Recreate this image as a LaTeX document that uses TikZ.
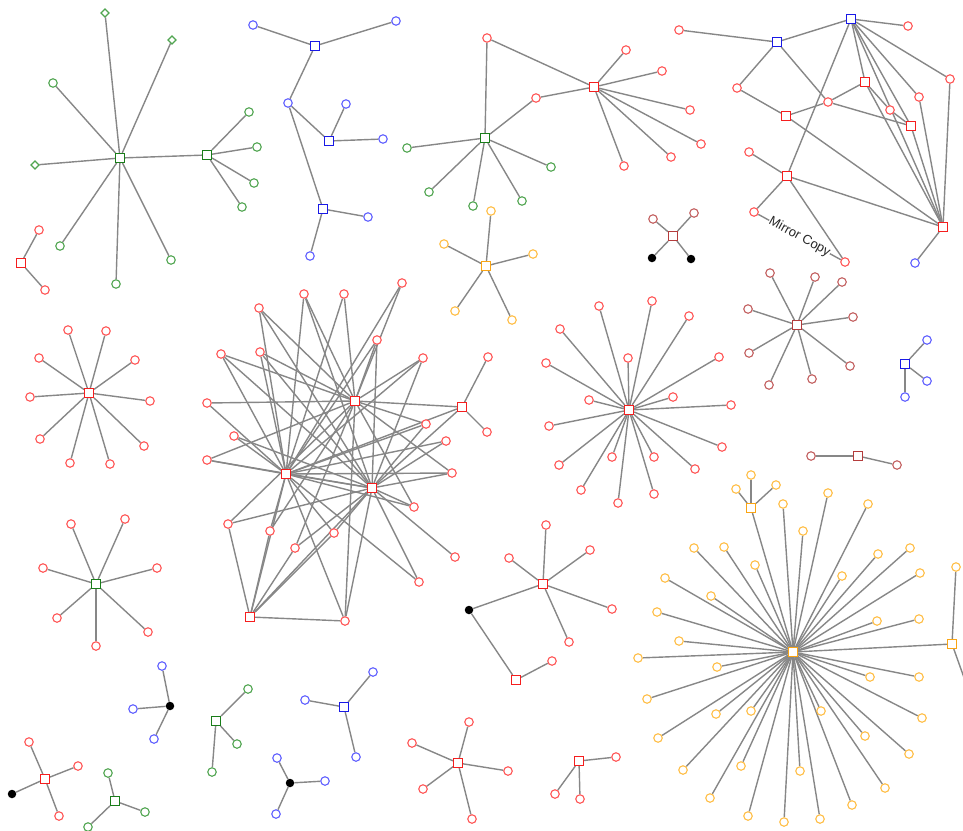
\documentclass[tikz,border=0pt]{standalone}
\usepackage{fontspec}
\setmainfont{Liberation Sans}
\usetikzlibrary{shapes.geometric, backgrounds}
\definecolor{netred}{RGB}{255,85,85}
\definecolor{netredhub}{RGB}{245,30,30}
\definecolor{netgreen}{RGB}{80,165,80}
\definecolor{netgreenhub}{RGB}{25,125,25}
\definecolor{netblue}{RGB}{95,95,255}
\definecolor{netbluehub}{RGB}{25,25,230}
\definecolor{netorange}{RGB}{255,190,70}
\definecolor{netorangehub}{RGB}{250,165,20}
\definecolor{netbrown}{RGB}{195,95,95}
\definecolor{netbrownhub}{RGB}{180,60,60}
\definecolor{netgray}{RGB}{135,135,135}

\begin{document}
\begin{tikzpicture}[
    x=1pt, y=-1pt,
    leaf/.style={circle, draw, fill=white, line width=1.1pt, inner sep=0pt, minimum size=8.5pt},
    hub/.style={rectangle, draw, fill=white, line width=1.1pt, inner sep=0pt, minimum size=9pt},
    gem/.style={diamond, draw=netgreen, fill=white, line width=1.1pt, inner sep=0pt, minimum size=8.5pt},
    blackdot/.style={circle, fill=black, inner sep=0pt, minimum size=8.5pt},
    rleaf/.style={leaf, draw=netred}, rhub/.style={hub, draw=netredhub},
    gleaf/.style={leaf, draw=netgreen}, ghub/.style={hub, draw=netgreenhub},
    bleaf/.style={leaf, draw=netblue}, bhub/.style={hub, draw=netbluehub},
    oleaf/.style={leaf, draw=netorange}, ohub/.style={hub, draw=netorangehub},
    nleaf/.style={leaf, draw=netbrown}, nhub/.style={hub, draw=netbrownhub},
    link/.style={draw=netgray, line width=1.4pt},
  ]
  \useasboundingbox (0,0) rectangle (963,830);

  % green star, top left
  \node[ghub] (gs) at (120,158) {};
  \node[ghub] (gt) at (207,155) {};
  \node[gem] (gd1) at (105,13) {};
  \node[gem] (gd2) at (172,40) {};
  \node[gem] (gd3) at (35,165) {};
  \foreach \x/\y [count=\i] in {53/83, 60/246, 171/260, 116/284} {
    \node[gleaf] (gs\i) at (\x,\y) {};
    \begin{pgfonlayer}{background}\draw[link] (gs) -- (gs\i);\end{pgfonlayer}
  }
  \foreach \x/\y [count=\i] in {249/112, 257/147, 254/183, 242/207} {
    \node[gleaf] (gt\i) at (\x,\y) {};
    \begin{pgfonlayer}{background}\draw[link] (gt) -- (gt\i);\end{pgfonlayer}
  }
  \node[rhub] (rp) at (21,263) {};
  \node[rleaf] (rp1) at (39,230) {};
  \node[rleaf] (rp2) at (45,290) {};

  % blue tree
  \node[bhub] (bt1) at (315,46) {};
  \node[bhub] (bt2) at (329,141) {};
  \node[bhub] (bt3) at (323,209) {};
  \node[bleaf] (btc) at (288,103) {};
  \node[bleaf] (bt1a) at (253,25) {};
  \node[bleaf] (bt1b) at (396,21) {};
  \node[bleaf] (bt2a) at (346,104) {};
  \node[bleaf] (bt2b) at (383,139) {};
  \node[bleaf] (bt3a) at (368,217) {};
  \node[bleaf] (bt3b) at (310,256) {};

  % green hub and red hub
  \node[ghub] (gh) at (485,138) {};
  \foreach \x/\y [count=\i] in {407/148, 429/192, 473/206, 522/201, 551/167} {
    \node[gleaf] (gh\i) at (\x,\y) {};
    \begin{pgfonlayer}{background}\draw[link] (gh) -- (gh\i);\end{pgfonlayer}
  }
  \node[rhub] (rh) at (594,87) {};
  \node[rleaf] (rht) at (487,38) {};
  \node[rleaf] (rhm) at (536,98) {};
  \foreach \x/\y [count=\i] in {626/50, 662/71, 690/110, 701/144, 671/157, 624/166} {
    \node[rleaf] (rh\i) at (\x,\y) {};
    \begin{pgfonlayer}{background}\draw[link] (rh) -- (rh\i);\end{pgfonlayer}
  }

  % small orange star
  \node[ohub] (oh) at (486,266) {};
  \foreach \x/\y [count=\i] in {491/211, 444/244, 533/254, 455/311, 512/320} {
    \node[oleaf] (oh\i) at (\x,\y) {};
    \begin{pgfonlayer}{background}\draw[link] (oh) -- (oh\i);\end{pgfonlayer}
  }

  % cross
  \node[nhub] (xh) at (673,236) {};
  \node[nleaf] (xh1) at (653,219) {};
  \node[nleaf] (xh2) at (694,213) {};
  \node[blackdot] (xh3) at (652,258) {};
  \node[blackdot] (xh4) at (691,259) {};

  % top right network
  \node[rleaf] (tc1) at (679,30) {};
  \node[bhub] (tb1) at (777,42) {};
  \node[bhub] (tb2) at (851,19) {};
  \node[rleaf] (tc2) at (908,26) {};
  \node[rleaf] (tc3) at (737,88) {};
  \node[rleaf] (tc4) at (828,102) {};
  \node[rhub] (ts1) at (865,82) {};
  \node[rleaf] (tc5) at (890,110) {};
  \node[rleaf] (tc6) at (919,97) {};
  \node[rleaf] (tc7) at (950,79) {};
  \node[rhub] (ts2) at (786,116) {};
  \node[rhub] (ts3) at (911,126) {};
  \node[rleaf] (tc8) at (749,152) {};
  \node[rhub] (ts4) at (787,176) {};
  \node[rleaf] (tc9) at (754,212) {};
  \node[rleaf] (tc10) at (845,262) {};
  \node[rhub] (ts5) at (943,227) {};
  \node[bleaf] (tbl) at (915,263) {};

  % brown star
  \node[nhub] (ns) at (797,325) {};
  \foreach \x/\y [count=\i] in {770/273, 815/277, 842/282, 748/309, 853/317, 749/353, 850/366, 769/385, 812/379} {
    \node[nleaf] (ns\i) at (\x,\y) {};
    \begin{pgfonlayer}{background}\draw[link] (ns) -- (ns\i);\end{pgfonlayer}
  }
  \node[bhub] (bq) at (905,364) {};
  \foreach \x/\y [count=\i] in {927/340, 927/381, 905/397} {
    \node[bleaf] (bq\i) at (\x,\y) {};
    \begin{pgfonlayer}{background}\draw[link] (bq) -- (bq\i);\end{pgfonlayer}
  }
  \node[nhub] (np) at (858,456) {};
  \node[nleaf] (np1) at (811,456) {};
  \node[nleaf] (np2) at (897,465) {};

  % left red star
  \node[rhub] (ls) at (89,393) {};
  \foreach \x/\y [count=\i] in {68/330, 106/331, 39/358, 135/360, 30/397, 150/401, 40/439, 144/446, 70/463, 110/464} {
    \node[rleaf] (ls\i) at (\x,\y) {};
    \begin{pgfonlayer}{background}\draw[link] (ls) -- (ls\i);\end{pgfonlayer}
  }

  % red mesh
  \node[rhub] (mh1) at (355,401) {};
  \node[rhub] (mh2) at (286,474) {};
  \node[rhub] (mh3) at (372,488) {};
  \node[rhub] (mh4) at (250,617) {};
  \node[rhub] (ms) at (462,407) {};
  \node[rleaf] (ms1) at (488,357) {};
  \node[rleaf] (ms2) at (487,432) {};
  \foreach \x/\y [count=\i] in {259/308, 304/294, 344/294, 402/283, 221/354, 260/352, 377/340, 423/358, 207/403, 234/436, 207/460, 426/424, 446/441, 452/473, 414/507, 228/524, 270/531, 295/548, 334/533, 345/621, 419/582, 455/557}
    \node[rleaf] (m\i) at (\x,\y) {};

  % big red star
  \node[rhub] (bs) at (629,410) {};
  \foreach \x/\y [count=\i] in {599/306, 652/301, 689/316, 560/329, 546/363, 628/358, 719/357, 589/400, 673/397, 731/405, 549/426, 722/447, 559/465, 612/457, 654/457, 695/469, 581/490, 618/503, 654/494} {
    \node[rleaf] (bs\i) at (\x,\y) {};
    \begin{pgfonlayer}{background}\draw[link] (bs) -- (bs\i);\end{pgfonlayer}
  }

  % bottom left groups
  \node[ghub] (gr) at (96,584) {};
  \foreach \x/\y [count=\i] in {71/524, 125/519, 43/568, 157/568, 57/618, 148/632, 96/646} {
    \node[rleaf] (gr\i) at (\x,\y) {};
    \begin{pgfonlayer}{background}\draw[link] (gr) -- (gr\i);\end{pgfonlayer}
  }
  \node[blackdot] (kd) at (170,706) {};
  \foreach \x/\y [count=\i] in {162/666, 133/709, 154/739} {
    \node[bleaf] (kd\i) at (\x,\y) {};
    \begin{pgfonlayer}{background}\draw[link] (kd) -- (kd\i);\end{pgfonlayer}
  }
  \node[rhub] (rq) at (45,779) {};
  \node[blackdot] (rqk) at (12,794) {};
  \foreach \x/\y [count=\i] in {29/742, 78/766, 59/816} {
    \node[rleaf] (rq\i) at (\x,\y) {};
    \begin{pgfonlayer}{background}\draw[link] (rq) -- (rq\i);\end{pgfonlayer}
  }
  \node[ghub] (gq) at (115,801) {};
  \foreach \x/\y [count=\i] in {108/773, 145/812, 88/827} {
    \node[gleaf] (gq\i) at (\x,\y) {};
    \begin{pgfonlayer}{background}\draw[link] (gq) -- (gq\i);\end{pgfonlayer}
  }
  \node[ghub] (gv) at (216,721) {};
  \foreach \x/\y [count=\i] in {248/689, 237/744, 212/772} {
    \node[gleaf] (gv\i) at (\x,\y) {};
    \begin{pgfonlayer}{background}\draw[link] (gv) -- (gv\i);\end{pgfonlayer}
  }
  \node[bhub] (bv) at (344,707) {};
  \foreach \x/\y [count=\i] in {305/700, 373/672, 356/757} {
    \node[bleaf] (bv\i) at (\x,\y) {};
    \begin{pgfonlayer}{background}\draw[link] (bv) -- (bv\i);\end{pgfonlayer}
  }
  \node[blackdot] (kb) at (290,783) {};
  \foreach \x/\y [count=\i] in {277/758, 325/781, 276/814} {
    \node[bleaf] (kb\i) at (\x,\y) {};
    \begin{pgfonlayer}{background}\draw[link] (kb) -- (kb\i);\end{pgfonlayer}
  }

  % bottom middle groups
  \node[rhub] (rs) at (458,763) {};
  \foreach \x/\y [count=\i] in {469/722, 412/743, 423/789, 472/819, 508/771} {
    \node[rleaf] (rs\i) at (\x,\y) {};
    \begin{pgfonlayer}{background}\draw[link] (rs) -- (rs\i);\end{pgfonlayer}
  }
  \node[rhub] (rc) at (543,584) {};
  \foreach \x/\y [count=\i] in {509/558, 546/525, 590/550, 612/609, 569/642} {
    \node[rleaf] (rc\i) at (\x,\y) {};
    \begin{pgfonlayer}{background}\draw[link] (rc) -- (rc\i);\end{pgfonlayer}
  }
  \node[blackdot] (kc) at (469,610) {};
  \node[rhub] (rd) at (516,680) {};
  \node[rleaf] (rd1) at (552,661) {};
  \node[rhub] (rw) at (579,761) {};
  \foreach \x/\y [count=\i] in {616/757, 555/794, 580/799} {
    \node[rleaf] (rw\i) at (\x,\y) {};
    \begin{pgfonlayer}{background}\draw[link] (rw) -- (rw\i);\end{pgfonlayer}
  }

  % big orange star
  \node[ohub] (oc) at (793,652) {};
  \foreach \x/\y [count=\i] in {694/548, 724/547, 783/504, 803/531, 828/493, 868/504, 755/565, 842/576, 878/554, 910/548, 665/578, 711/596, 920/573, 657/612, 877/621, 679/641, 919/619, 638/658, 717/667, 870/677, 919/677, 647/699, 716/714, 751/711, 821/711, 922/718, 658/738, 741/766, 800/771, 865/736, 909/754, 683/770, 710/798, 748/816, 784/822, 820/819, 852/805, 885/788} {
    \node[oleaf] (oc\i) at (\x,\y) {};
    \begin{pgfonlayer}{background}\draw[link] (oc) -- (oc\i);\end{pgfonlayer}
  }
  \node[ohub] (os) at (751,508) {};
  \foreach \x/\y [count=\i] in {751/475, 736/489, 776/485} {
    \node[oleaf] (os\i) at (\x,\y) {};
    \begin{pgfonlayer}{background}\draw[link] (os) -- (os\i);\end{pgfonlayer}
  }
  \node[ohub] (or) at (952,644) {};
  \node[oleaf] (or1) at (956,567) {};
  \coordinate (oredge) at (972,700);

  % remaining links
  \begin{scope}[on background layer]
    \foreach \a/\b in {gs/gt, gs/gd1, gs/gd2, gs/gd3, rp/rp1, rp/rp2,
        bt1/bt1a, bt1/bt1b, bt1/btc, btc/bt2, btc/bt3, bt2/bt2a, bt2/bt2b, bt3/bt3a, bt3/bt3b,
        gh/rht, gh/rhm, rh/rht, rh/rhm, xh/xh1, xh/xh2, xh/xh3, xh/xh4,
        tc1/tb1, tb1/tb2, tb2/tc2, tb1/tc3, tb1/tc4, tc3/ts2, ts2/tc4, tc4/ts1, tc4/ts3,
        ts1/tc5, tc5/ts3, ts1/ts5, tb2/ts1, tb2/ts3, tb2/tc6, tb2/tc7, tb2/ts5, tb2/ts4,
        tc6/ts5, tc7/ts5, ts3/ts5, ts2/ts5, ts4/ts5, tc8/ts4, ts4/tc9, ts4/tc10, ts5/tbl,
        np/np1, np/np2, rq/rqk, rc/kc, kc/rd, rd/rd1, oc/os, oc/or, or/or1, or/oredge}
      \draw[link] (\a) -- (\b);
    \foreach \a/\b in {m1/mh1, m1/mh2, m1/mh3, m2/mh1, m2/mh2, m2/mh3, m3/mh1, m3/mh2,
        m4/mh1, m4/mh2, m5/mh1, m5/mh2, m5/mh3, m6/mh1, m6/mh2, m6/mh3, m7/mh1, m7/mh2, m7/mh3,
        m8/mh1, m8/mh2, m8/mh3, m9/mh1, m9/mh2, m10/mh2, m10/mh3, m11/mh1, m11/mh2, m11/mh3,
        m12/mh1, m12/mh2, m12/mh3, m13/mh2, m13/mh3, m14/mh1, m14/mh2, m14/mh3,
        m15/mh1, m15/mh2, m15/mh3, m16/mh1, m16/mh3, m16/mh4, m17/mh1, m17/mh2, m17/mh4,
        m18/mh1, m18/mh3, m18/mh4, m19/mh2, m19/mh3, m19/mh4, m20/mh1, m20/mh2, m20/mh3, m20/mh4,
        m21/mh2, m21/mh3, m22/mh3, mh4/mh2, mh4/mh3, mh2/mh3,
        ms/mh1, ms/mh2, ms/mh3, ms/ms1, ms/ms2}
      \draw[link] (\a) -- (\b);
    \draw[link] (tc9) -- node[sloped, fill=white, inner sep=0.5pt, text=black!85, font=\fontsize{13}{15}\selectfont] {Mirror Copy} (tc10);
  \end{scope}
\end{tikzpicture}
\end{document}
